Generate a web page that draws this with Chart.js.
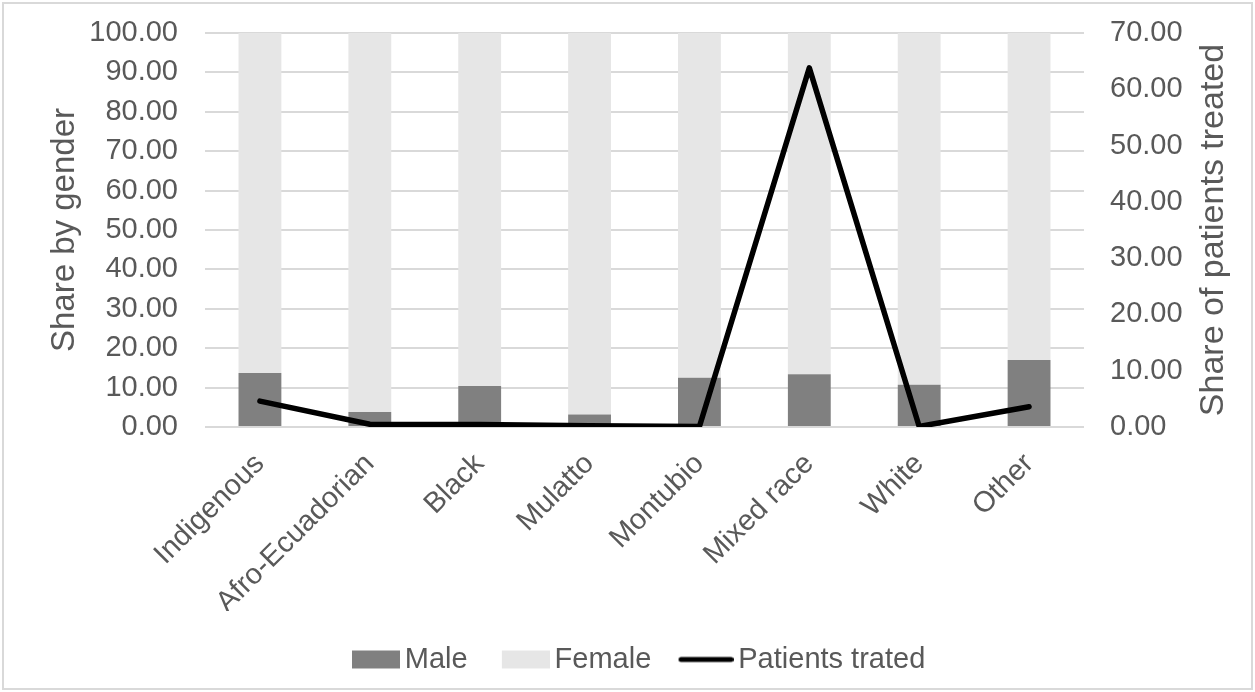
<!DOCTYPE html>
<html>
<head>
<meta charset="utf-8">
<script src="https://cdn.jsdelivr.net/npm/chart.js@4.4.1/dist/chart.umd.min.js"></script>
<style>
html,body{margin:0;padding:0;background:#fff;}
#wrap{width:1255px;height:692px;position:relative;}
</style>
</head>
<body>
<div id="wrap"><canvas id="c" width="1255" height="692"></canvas></div>
<script>
const categories = ["Indigenous","Afro-Ecuadorian","Black","Mulatto","Montubio","Mixed race","White","Other"];
const maleShare = [13.7, 3.8, 10.4, 3.2, 12.5, 13.4, 10.7, 17.0];
const femaleShare = [86.3, 96.2, 89.6, 96.8, 87.5, 86.6, 89.3, 83.0];
const patientsTreated = [4.6, 0.5, 0.45, 0.2, 0.1, 63.8, 0.1, 3.6];
const leftTicks = [0,10,20,30,40,50,60,70,80,90,100];
const rightTicks = [0,10,20,30,40,50,60,70];

const FONT = "'Liberation Sans', Arial, Helvetica, sans-serif";
const TXT = '#595959';
const FS = 29;
const BOXW = 38.5;   // legend box slot width
const GAP = 5;       // gap between swatch and text

// legend swatch images (symbol ends GAP px before text)
function swatch(kind, color, swW) {
  const e = BOXW / 2 + FS / 2 - GAP;
  const W = Math.round(2 * e);
  const c = document.createElement('canvas');
  c.width = W; c.height = 20;
  const g = c.getContext('2d');
  const x0 = W - swW;
  if (kind === 'rect') {
    g.fillStyle = color; g.fillRect(x0, 1, swW, 18);
  } else {
    g.strokeStyle = color; g.lineWidth = 5; g.lineCap = 'round';
    g.beginPath(); g.moveTo(x0 + 2.5, 10); g.lineTo(W - 2.5, 10); g.stroke();
  }
  return c;
}

const frame = {
  id: 'frame',
  afterLayout(chart) {
    if (chart.legend) { chart.legend.left += 11; chart.legend.right += 11; }
  },
  beforeDraw(chart) {
    const ctx = chart.ctx;
    ctx.save();
    ctx.fillStyle = '#fff';
    ctx.fillRect(0, 0, chart.width, chart.height);
    ctx.strokeStyle = '#d9d9d9';
    ctx.lineWidth = 2;
    ctx.strokeRect(3, 3, chart.width - 6, chart.height - 6);
    ctx.restore();
  },
  afterDraw(chart) {
    const ctx = chart.ctx;
    const a = chart.chartArea;
    ctx.save();
    ctx.fillStyle = TXT;
    ctx.font = "34px " + FONT;
    ctx.textAlign = 'center';
    ctx.textBaseline = 'middle';
    ctx.translate(1214, (a.top + a.bottom) / 2);
    ctx.rotate(-Math.PI / 2);
    ctx.fillText('Share of patients treated', 0, 0);
    ctx.restore();
  }
};

new Chart(document.getElementById('c'), {
  data: {
    labels: categories,
    datasets: [
      { type: 'line', label: 'Patients trated', data: patientsTreated, yAxisID: 'y1',
        borderColor: '#000', backgroundColor: '#000', borderWidth: 5.5, pointRadius: 0,
        tension: 0, borderJoinStyle: 'round', borderCapStyle: 'round', order: 0,
        pointStyle: swatch('line', '#000', 55) },
      { type: 'bar', label: 'Male', data: maleShare, yAxisID: 'y', backgroundColor: '#808080',
        stack: 's', barPercentage: 0.39, categoryPercentage: 1, order: 1,
        pointStyle: swatch('rect', '#808080', 48), borderWidth: 0 },
      { type: 'bar', label: 'Female', data: femaleShare, yAxisID: 'y', backgroundColor: '#e6e6e6',
        stack: 's', barPercentage: 0.39, categoryPercentage: 1, order: 2,
        pointStyle: swatch('rect', '#e6e6e6', 48), borderWidth: 0 }
    ]
  },
  options: {
    responsive: false,
    animation: false,
    layout: { padding: { left: 5, right: 5, top: 33, bottom: 8 } },
    plugins: {
      tooltip: { enabled: false },
      legend: {
        position: 'bottom',
        labels: {
          usePointStyle: true, pointStyleWidth: BOXW, boxHeight: 18,
          color: TXT, font: { family: FONT, size: FS }, padding: 34,
          sort: (a, b) => {
            const ord = { 'Male': 0, 'Female': 1, 'Patients trated': 2 };
            return ord[a.text] - ord[b.text];
          }
        }
      }
    },
    scales: {
      x: {
        stacked: true,
        grid: { display: false, drawTicks: false },
        border: { display: false },
        ticks: { color: TXT, font: { family: FONT, size: FS }, maxRotation: 45, minRotation: 45, padding: 20, autoSkip: false },
        afterFit: (s) => { s.height = 184; s.paddingTop = 0; }
      },
      y: {
        stacked: true, position: 'left', min: 0, max: 100,
        afterBuildTicks: (s) => { s.ticks = leftTicks.map(v => ({ value: v })); },
        grid: { color: '#d9d9d9', lineWidth: 2, drawTicks: false },
        border: { display: false },
        ticks: { color: TXT, font: { family: FONT, size: FS }, padding: 27, callback: v => Number(v).toFixed(2) },
        title: { display: true, text: 'Share by gender', color: TXT, font: { family: FONT, size: 33, lineHeight: 1 }, padding: { top: 43.5, bottom: 0 } },
        afterFit: (s) => { s.width = 200; s.paddingTop = 0; s.paddingBottom = 0; }
      },
      y1: {
        position: 'right', min: 0, max: 70,
        afterBuildTicks: (s) => { s.ticks = rightTicks.map(v => ({ value: v })); },
        grid: { display: false, drawTicks: false },
        border: { display: false },
        ticks: { color: TXT, font: { family: FONT, size: FS }, padding: 26, callback: v => Number(v).toFixed(2) },
        afterFit: (s) => { s.width = 166; s.paddingTop = 0; s.paddingBottom = 0; }
      }
    }
  },
  plugins: [frame]
});
</script>
</body>
</html>
